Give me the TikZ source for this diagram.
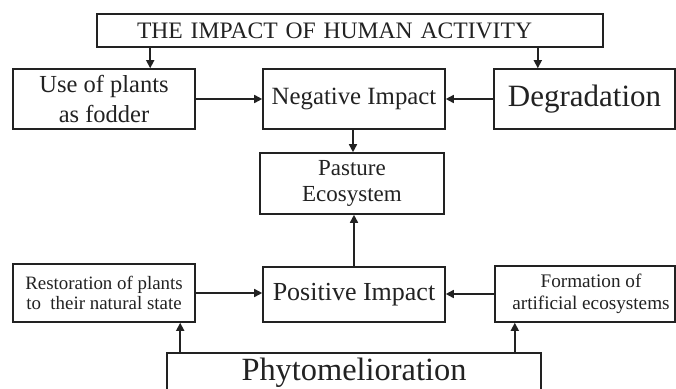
\documentclass[tikz,border=0pt]{standalone}
\usepackage{fontspec}
\setmainfont{Liberation Serif}
\usetikzlibrary{arrows.meta,calc}
\definecolor{ink}{HTML}{222222}
\tikzset{
  box/.style={draw=ink, line width=1.6pt, rectangle, inner sep=0pt, align=center, text=ink},
  arr/.style={draw=ink, line width=1.6pt, -{Triangle[length=8pt,width=8pt]}},
}
\begin{document}
\begin{tikzpicture}[x=1pt,y=-1pt]
\useasboundingbox (0,0) rectangle (676,388);
\clip (0,0) rectangle (676,388);
\fill[white] (0,0) rectangle (676,388);

\node[box, minimum width=506pt, minimum height=33pt, text width=426pt, inner xsep=40pt, align=left,
  font=\fontsize{23.6}{26}\selectfont] (title) at (350,30.5) {THE IMPACT OF HUMAN ACTIVITY};

\node[box, minimum width=182pt, minimum height=60pt, font=\fontsize{24.5}{30}\selectfont] (use) at (104,99) {Use of plants\\as fodder};
\node[box, minimum width=182pt, minimum height=60pt, font=\fontsize{24.8}{28}\selectfont] (neg) at (354,99) {Negative Impact};
\node[box, minimum width=181pt, minimum height=60pt, font=\fontsize{31}{34}\selectfont] (deg) at (584.5,99) {Degradation};

\node[box, minimum width=184pt, minimum height=61pt, font=\fontsize{23}{26}\selectfont] (past) at (352,183.5) {Pasture\\Ecosystem};

\node[box, minimum width=182pt, minimum height=58pt, font=\fontsize{18.9}{20}\selectfont] (rest) at (104,293) {Restoration of plants\\to\ \ their natural state};
\node[box, minimum width=182pt, minimum height=55pt, font=\fontsize{26}{29}\selectfont] (pos) at (354,294.5) {Positive Impact};
\node[box, minimum width=180pt, minimum height=56pt, font=\fontsize{19.2}{22}\selectfont] (form) at (585,294) {\hspace*{12pt}Formation of\\\hspace*{12pt}artificial ecosystems};

\node[box, minimum width=374pt, minimum height=47pt, text height=21.4pt, text depth=14.4pt,
  font=\fontsize{32.4}{36}\selectfont] (phyto) at (354,376.5) {Phytomelioration};

% connectors
\draw[arr] ([xshift=54pt]title.south west) coordinate (t1) -- (t1 |- use.north);
\draw[arr] ([xshift=-66pt]title.south east) coordinate (t2) -- (t2 |- deg.north);
\draw[arr] (use.east) -- (neg.west);
\draw[arr] (deg.west) -- (neg.east);
\draw[arr] ([xshift=-1pt]neg.south) coordinate (n1) -- (n1 |- past.north);
\draw[arr] (pos.north) -- (pos.north |- past.south);
\draw[arr] (rest.east) -- (rest.east -| pos.west);
\draw[arr] (form.west) -- (form.west -| pos.east);
\draw[arr] ([xshift=14pt]phyto.north west) coordinate (p1) -- (p1 |- rest.south);
\draw[arr] ([xshift=-27pt]phyto.north east) coordinate (p2) -- (p2 |- form.south);
\end{tikzpicture}
\end{document}
